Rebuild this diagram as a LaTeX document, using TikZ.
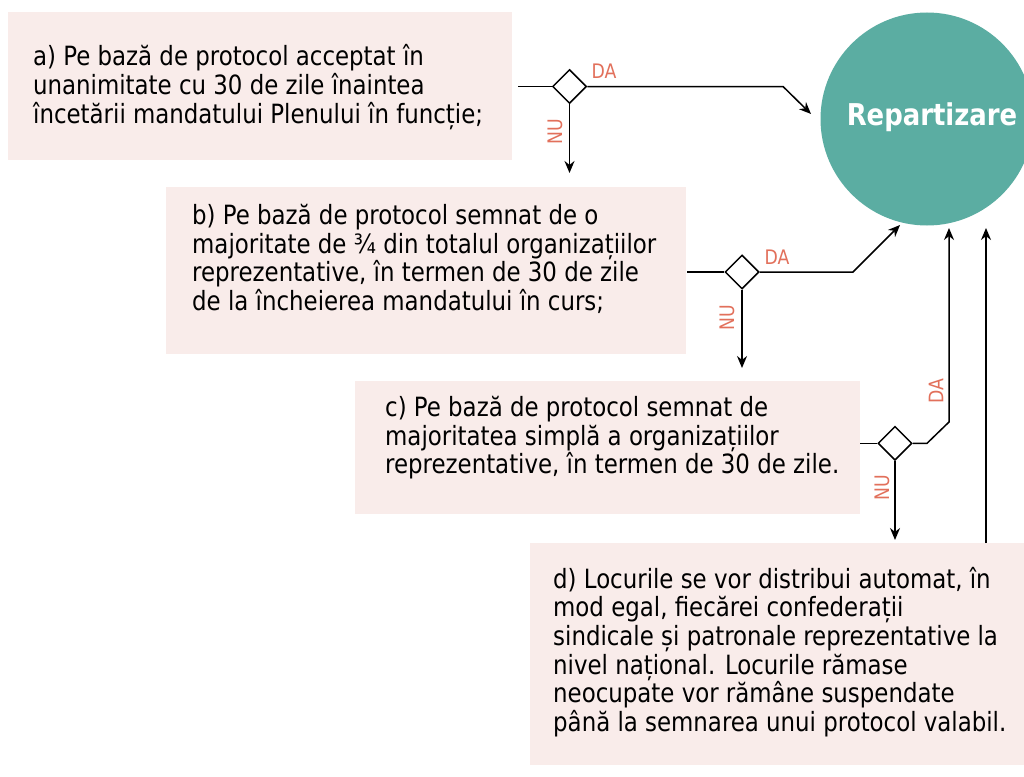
\documentclass[tikz,border=0pt]{standalone}
\usepackage{fontspec}
\setmainfont{DejaVu Sans Condensed}[FakeStretch=0.96]
\usetikzlibrary{shapes.geometric,arrows.meta}
\definecolor{boxpink}{HTML}{F9ECEA}
\definecolor{circteal}{HTML}{5BADA2}
\definecolor{lblred}{HTML}{E2705B}
\tikzset{
  box/.style={fill=boxpink, draw=none, inner sep=0pt, anchor=north west},
  txt/.style={anchor=west, align=left, inner sep=0pt, font=\fontsize{26.5}{28.6}\selectfont},
  dec/.style={diamond, draw, fill=white, line width=1.5pt, minimum size=34pt, inner sep=0pt},
  conn/.style={line width=1.5pt},
  flow/.style={line width=1.5pt, -{Stealth[length=12pt,width=10pt]}},
  lbl/.style={text=lblred, inner sep=0pt, font=\fontsize{20}{20}\selectfont}
}
\begin{document}
\begin{tikzpicture}[x=1pt,y=-1pt]
\clip (0,0) rectangle (1024,776);
\fill[white] (0,0) rectangle (1024,776);

% boxes
\node[box, minimum width=504pt, minimum height=148pt] (a) at (8,12) {};
\node[box, minimum width=520pt, minimum height=167pt] (b) at (166,187) {};
\node[box, minimum width=505pt, minimum height=133pt] (c) at (355,381) {};
\node[box, minimum width=500pt, minimum height=222pt] (d) at (530,543) {};

\node[txt] (ta) at (33,87) {a) Pe bază de protocol acceptat în\\unanimitate cu 30 de zile înaintea\\încetării mandatului Plenului în funcție;};
\node[txt] (tb) at (192,259) {b) Pe bază de protocol semnat de o\\majoritate de ¾ din totalul organizațiilor\\reprezentative, în termen de 30 de zile\\de la încheierea mandatului în curs;};
\node[txt] (tc) at (385,438) {c) Pe bază de protocol semnat de\\majoritatea simplă a organizațiilor\\reprezentative, în termen de 30 de zile.};
\node[txt] (td) at (553,652) {d) Locurile se vor distribui automat, în\\mod egal, fiecărei confederații\\sindicale și patronale reprezentative la\\nivel național. Locurile rămase\\neocupate vor rămâne suspendate\\până la semnarea unui protocol valabil.};

% circle
\node[circle, fill=circteal, minimum size=213pt, inner sep=0pt] (R) at (927,119) {};
\node[text=white, inner sep=0pt, font=\fontsize{30}{30}\selectfont\bfseries] (Rt) at (932,117) {Repartizare};

% decisions
\node[dec] (da) at (569.5,86.5) {};
\node[dec] (db) at (742,272) {};
\node[dec] (dc) at (895,443.3) {};

% coordinates
\coordinate (a-out) at (518,86.5);
\coordinate (a-bend) at (783,86.5);
\coordinate (a-tip) at (811,114);
\coordinate (a-nu) at (569.5,173);
\coordinate (b-out) at (687,272);
\coordinate (b-bend) at (853,272);
\coordinate (b-tip) at (900,225);
\coordinate (b-nu) at (742,368);
\coordinate (c-out) at (860,443.3);
\coordinate (c-bend1) at (927,443.3);
\coordinate (c-bend2) at (949,422);
\coordinate (c-tip) at (949,228);
\coordinate (c-nu) at (895,540);
\coordinate (d-tip) at (986,228);

% connectors
\draw[conn] (a-out) -- (da.west);
\draw[flow] (da.east) -- (a-bend) -- (a-tip);
\draw[flow] (da.south) -- (a-nu);
\draw[conn] (b-out) -- (db.west);
\draw[flow] (db.east) -- (b-bend) -- (b-tip);
\draw[flow] (db.south) -- (b-nu);
\draw[conn] (c-out) -- (dc.west);
\draw[flow] (dc.east) -- (c-bend1) -- (c-bend2) -- (c-tip);
\draw[flow] (dc.south) -- (c-nu);
\draw[flow] (d.north -| d-tip) -- (d-tip);

% labels
\node[lbl] (la-da) at (604,71.7) {DA};
\node[lbl, rotate=90] (la-nu) at (555,131.7) {NU};
\node[lbl] (lb-da) at (777,257) {DA};
\node[lbl, rotate=90] (lb-nu) at (727,318) {NU};
\node[lbl, rotate=90] (lc-da) at (936,391) {DA};
\node[lbl, rotate=90] (lc-nu) at (882,488) {NU};
\end{tikzpicture}
\end{document}
